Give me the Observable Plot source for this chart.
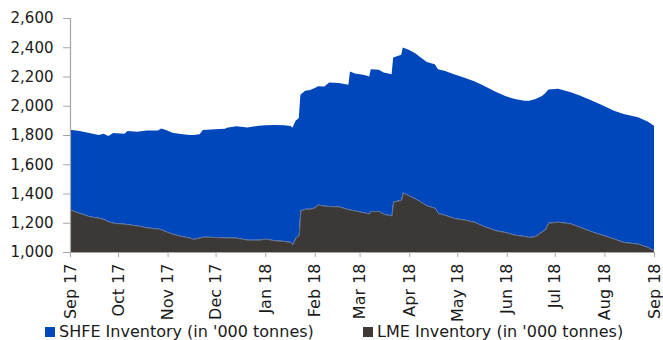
<!DOCTYPE html>
<html>
<head>
<meta charset="utf-8">
<script src="https://cdn.jsdelivr.net/npm/d3@7"></script>
<script src="https://cdn.jsdelivr.net/npm/@observablehq/plot@0.6"></script>
<style>
  html, body { margin: 0; padding: 0; background: #fff; }
  #wrap { position: relative; width: 663px; height: 340px; overflow: hidden; font-family: "DejaVu Sans", sans-serif; }
  #chart svg { display: block; }
  #chart svg g[aria-label*="axis"] line,
  #chart svg g[aria-label*="axis"] path { stroke: #a6a6a6; }
  #legend { position: absolute; left: 0; top: 323px; width: 663px; height: 18px; font-size: 16px; line-height: 18px; color: #1a1a1a; white-space: nowrap; }
  .sw { position: absolute; top: 4px; width: 10px; height: 10px; }
  .lab { position: absolute; top: 0; }
</style>
</head>
<body>
<div id="wrap">
  <div id="chart"></div>
  <div id="legend"></div>
</div>
<script>
// ---- data ----
const seriesNames = ["SHFE Inventory (in '000 tonnes)", "LME Inventory (in '000 tonnes)"];
const seriesColors = ["#0047BB", "#3C3835"];

const dates = [
  "2017-09-01","2017-09-07","2017-09-13","2017-09-19","2017-09-22","2017-09-25","2017-09-28",
  "2017-10-05","2017-10-07","2017-10-13","2017-10-19","2017-10-26","2017-10-28","2017-10-31",
  "2017-11-04","2017-11-09","2017-11-15","2017-11-17","2017-11-21","2017-11-23",
  "2017-12-01","2017-12-07","2017-12-08","2017-12-14","2017-12-21","2017-12-28",
  "2018-01-01","2018-01-07","2018-01-13","2018-01-17","2018-01-18","2018-01-20","2018-01-22","2018-01-23","2018-01-26","2018-01-29",
  "2018-02-01","2018-02-03","2018-02-07","2018-02-10","2018-02-16","2018-02-22","2018-02-23","2018-02-26",
  "2018-03-01","2018-03-04","2018-03-07","2018-03-08","2018-03-13","2018-03-16","2018-03-21","2018-03-22","2018-03-27","2018-03-28",
  "2018-04-01","2018-04-05","2018-04-08","2018-04-12","2018-04-17","2018-04-19","2018-04-23","2018-04-29",
  "2018-05-06","2018-05-12","2018-05-17","2018-05-25","2018-05-31",
  "2018-06-06","2018-06-12","2018-06-15","2018-06-19","2018-06-23","2018-06-25","2018-06-27",
  "2018-07-03","2018-07-11","2018-07-17","2018-07-24","2018-07-30",
  "2018-08-07","2018-08-13","2018-08-22","2018-08-28","2018-09-01"
];

const lme = [
  1291,1266,1245,1234,1225,1209,1200,
  1193,1190,1182,1168,1160,1155,1141,
  1125,1111,1098,1089,1098,1105,
  1102,1100,1100,1098,1084,1084,
  1091,1080,1075,1068,1052,1098,1116,1284,1295,1295,
  1305,1325,1316,1314,1311,1293,1290,1284,
  1277,1270,1264,1280,1280,1261,1250,1343,1357,1407,
  1386,1364,1345,1318,1302,1266,1255,1232,
  1220,1205,1180,1148,1136,
  1118,1109,1102,1109,1141,1155,1200,
  1207,1195,1170,1141,1120,
  1091,1068,1057,1034,1011
];

const shfe = [
  545,561,569,566,584,584,614,
  616,637,641,662,670,690,693,
  691,696,702,711,707,729,
  737,743,750,761,768,780,
  775,788,791,793,798,800,800,791,807,812,
  816,809,816,845,844,850,944,937,
  939,941,936,970,966,966,966,987,991,991,
  996,993,987,982,982,984,984,984,
  969,961,961,948,930,
  928,925,932,937,925,931,911,
  909,898,898,895,887,
  875,875,864,859,853
];

const yTicks = [1000, 1200, 1400, 1600, 1800, 2000, 2200, 2400, 2600];
const monthTicks = [
  "2017-09-01","2017-10-01","2017-11-01","2017-12-01","2018-01-01","2018-02-01","2018-03-01",
  "2018-04-01","2018-05-01","2018-06-01","2018-07-01","2018-08-01","2018-09-01"
];

// ---- build table ----
const parse = d3.utcParse("%Y-%m-%d");
const rows = [];
dates.forEach((d, i) => {
  rows.push({date: parse(d), series: seriesNames[1], value: lme[i]});
  rows.push({date: parse(d), series: seriesNames[0], value: shfe[i]});
});
const lmeRows = rows.filter(r => r.series === seriesNames[1]);
const tickDates = monthTicks.map(parse);

const plot = Plot.plot({
  width: 663,
  height: 323,
  marginTop: 18,
  marginLeft: 70,
  marginRight: 9,
  marginBottom: 71,
  style: {fontFamily: "DejaVu Sans, sans-serif", fontSize: "15px", color: "#1a1a1a", background: "#fff"},
  x: {
    type: "utc",
    domain: [tickDates[0], tickDates[tickDates.length - 1]],
    ticks: tickDates,
    tickFormat: d3.utcFormat("%b %y"),
    tickRotate: -90,
    tickSize: 5,
    tickPadding: 6,
    label: null
  },
  y: {
    domain: [1000, 2600],
    ticks: yTicks,
    tickFormat: d3.format(","),
    tickSize: 7,
    tickPadding: 10,
    label: null
  },
  color: {domain: seriesNames, range: seriesColors},
  marks: [
    Plot.areaY(rows, {x: "date", y: "value", fill: "series", order: [seriesNames[1], seriesNames[0]], clip: true}),
    Plot.lineY(lmeRows, {x: "date", y: "value", stroke: "#6b7ea6", strokeWidth: 0.8, clip: true}),
    Plot.ruleY([1000], {stroke: "#a6a6a6", strokeWidth: 1.2}),
    Plot.ruleX([tickDates[0]], {stroke: "#a6a6a6", strokeWidth: 1.2})
  ]
});
document.getElementById("chart").appendChild(plot);

// x tick labels a bit larger
plot.querySelectorAll('g[aria-label*="x-axis"] text').forEach(t => t.style.fontSize = "16px");

// ---- legend ----
const legend = document.getElementById("legend");
const legendX = [[45, 59], [363, 377]];
seriesNames.forEach((name, i) => {
  const sw = document.createElement("div");
  sw.className = "sw";
  sw.style.left = legendX[i][0] + "px";
  sw.style.background = seriesColors[i];
  legend.appendChild(sw);
  const lab = document.createElement("div");
  lab.className = "lab";
  lab.style.left = legendX[i][1] + "px";
  lab.textContent = name;
  legend.appendChild(lab);
});
</script>
</body>
</html>
